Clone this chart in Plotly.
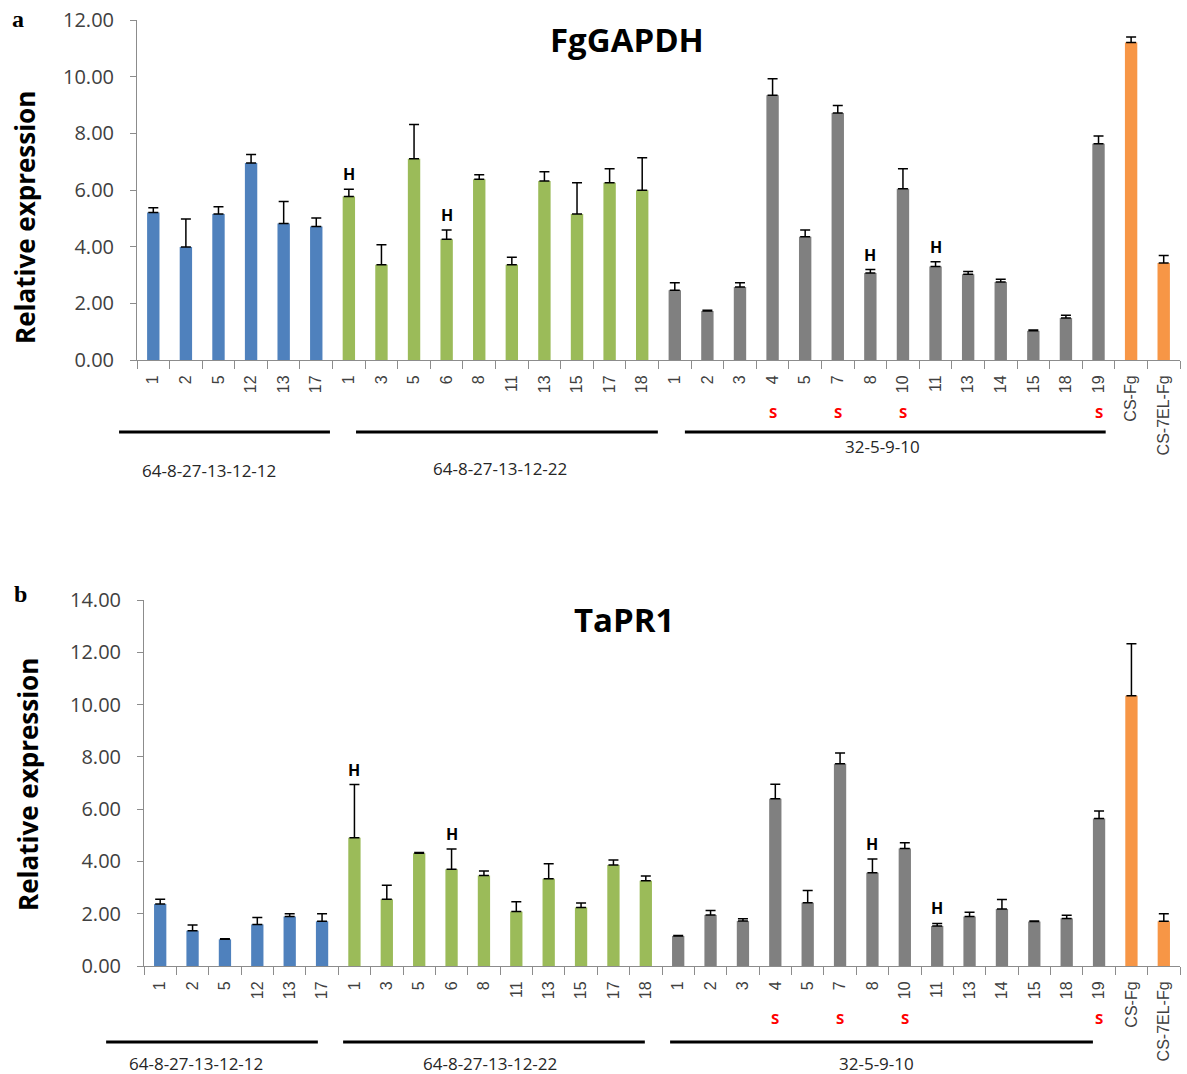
import plotly.graph_objects as go

W, H = 1187, 1074
OFF = 0  # page body margin is removed by the post script below

# ---------------- data ----------------
group_names = ["64-8-27-13-12-12", "64-8-27-13-12-22", "32-5-9-10", "control"]
labels_g1 = ["1", "2", "5", "12", "13", "17"]
labels_g2 = ["1", "3", "5", "6", "8", "11", "13", "15", "17", "18"]
labels_g3 = ["1", "2", "3", "4", "5", "7", "8", "10", "11", "13", "14", "15", "18", "19"]
labels_ctrl = ["CS-Fg", "CS-7EL-Fg"]

# panel a: FgGAPDH
gapdh_g1 = [5.21, 3.99, 5.15, 6.95, 4.82, 4.71]
gapdh_g1_err = [0.16, 0.99, 0.26, 0.30, 0.77, 0.30]
gapdh_g2 = [5.77, 3.36, 7.10, 4.26, 6.38, 3.36, 6.32, 5.15, 6.26, 5.99]
gapdh_g2_err = [0.26, 0.71, 1.21, 0.33, 0.16, 0.27, 0.32, 1.11, 0.49, 1.15]
gapdh_g3 = [2.46, 1.73, 2.58, 9.34, 4.35, 8.72, 3.07, 6.04, 3.30, 3.03, 2.75, 1.03, 1.48, 7.63]
gapdh_g3_err = [0.27, 0.03, 0.15, 0.59, 0.24, 0.26, 0.12, 0.71, 0.17, 0.09, 0.10, 0.03, 0.10, 0.28]
gapdh_ctrl = [11.21, 3.42]
gapdh_ctrl_err = [0.19, 0.27]

# panel b: TaPR1
pr1_g1 = [2.37, 1.35, 1.02, 1.59, 1.89, 1.71]
pr1_g1_err = [0.18, 0.22, 0.02, 0.27, 0.11, 0.29]
pr1_g2 = [4.91, 2.55, 4.31, 3.70, 3.46, 2.08, 3.34, 2.24, 3.86, 3.26]
pr1_g2_err = [2.03, 0.54, 0.03, 0.78, 0.17, 0.38, 0.57, 0.17, 0.19, 0.18]
pr1_g3 = [1.15, 1.95, 1.72, 6.40, 2.42, 7.74, 3.57, 4.49, 1.53, 1.89, 2.18, 1.70, 1.82, 5.64]
pr1_g3_err = [0.02, 0.17, 0.09, 0.55, 0.47, 0.41, 0.52, 0.22, 0.10, 0.17, 0.36, 0.02, 0.12, 0.29]
pr1_ctrl = [10.34, 1.71]
pr1_ctrl_err = [1.99, 0.29]

# y ticks
gapdh_ticks = [0, 2, 4, 6, 8, 10, 12]
pr1_ticks = [0, 2, 4, 6, 8, 10, 12, 14]

# marks: (group index, label)
h_marks = [(1, "1"), (1, "6"), (2, "8"), (2, "11")]
s_marks = [(2, "4"), (2, "7"), (2, "10"), (2, "19")]

colors = ["#4F81BD", "#9BBB59", "#808080", "#F79646"]
group_labels = [labels_g1, labels_g2, labels_g3, labels_ctrl]

# ---------------- helpers ----------------
def py(pix):  # screen pixel row -> paper y
    return 1 - (pix - OFF) / H

def px(pix):  # screen pixel column -> paper x
    return (pix - OFF) / W

positions = []
start = 0
for labs in group_labels:
    positions.append(list(range(start, start + len(labs))))
    start += len(labs)
N = start
all_labels = [l for labs in group_labels for l in labs]
all_pos = list(range(N))

panels = [
    dict(vals=[gapdh_g1, gapdh_g2, gapdh_g3, gapdh_ctrl],
         errs=[gapdh_g1_err, gapdh_g2_err, gapdh_g3_err, gapdh_ctrl_err],
         ticks=gapdh_ticks,
         title="FgGAPDH", xdom=(137, 1180), ydom=(20, 360),
         letter="a", letter_xy=(18, 19), title_xy=(627, 40), ytitle_xy=(25, 218),
         s_y=412, line_y=432,
         lines=[(-1.05, 5.42), (6.22, 15.48), (16.31, 29.22)],
         glabels=[(209, 470), (500, 468), (882, 447)]),
    dict(vals=[pr1_g1, pr1_g2, pr1_g3, pr1_ctrl],
         errs=[pr1_g1_err, pr1_g2_err, pr1_g3_err, pr1_ctrl_err],
         ticks=pr1_ticks,
         title="TaPR1", xdom=(144, 1180), ydom=(600, 966),
         letter="b", letter_xy=(20, 594), title_xy=(624, 620), ytitle_xy=(28, 785),
         s_y=1018, line_y=1042,
         lines=[(-1.67, 4.87), (5.65, 14.97), (15.75, 28.81)],
         glabels=[(196, 1063), (490, 1063), (876, 1063)]),
]

fig = go.Figure()
annotations = []
shapes = []
axis_color = "#8C8C8C"
tick_color = "#404040"

for p_i, p in enumerate(panels):
    sfx = "" if p_i == 0 else str(p_i + 1)
    xref = "x" + sfx
    yref = "y" + sfx
    for g in range(4):
        fig.add_trace(go.Bar(
            x=positions[g], y=p["vals"][g],
            marker=dict(color=colors[g], line=dict(width=0)),
            width=0.38,
            error_y=dict(type="data", array=p["errs"][g], arrayminus=[0] * len(p["errs"][g]),
                         symmetric=False, color="black", thickness=1.5, width=5),
            xaxis=xref, yaxis=yref, showlegend=False, hoverinfo="x+y"))

    ymax = max(p["ticks"])
    xa = dict(domain=[px(p["xdom"][0]), px(p["xdom"][1])], range=[-0.5, N - 0.5],
              tickmode="array", tickvals=all_pos, ticktext=all_labels, tickangle=-90,
              ticks="", ticklabelstandoff=8, ticklabeloverflow="allow",
              tickfont=dict(family="Liberation Sans, Arial", size=16, color=tick_color),
              minor=dict(tickmode="array", tickvals=[i - 0.5 for i in range(N + 1)],
                         ticks="outside", ticklen=8, tickcolor=axis_color, tickwidth=1,
                         showgrid=False),
              showline=True, linecolor=axis_color, linewidth=1, showgrid=False,
              zeroline=False, anchor=yref, fixedrange=True, automargin=False)
    ya = dict(domain=[py(p["ydom"][1]), py(p["ydom"][0])], range=[0, ymax * 1.00002],
              tickmode="array", tickvals=p["ticks"],
              ticktext=["%.2f" % t for t in p["ticks"]],
              ticks="outside", ticklen=6, tickcolor=axis_color,
              ticklabelstandoff=12, ticklabeloverflow="allow",
              tickfont=dict(family="Open Sans", size=20, color=tick_color),
              showline=True, linecolor=axis_color, linewidth=1, showgrid=False,
              zeroline=False, anchor=xref, fixedrange=True, automargin=False)
    fig.update_layout(**{"xaxis" + sfx: xa, "yaxis" + sfx: ya})

    # title, y title, panel letter
    annotations.append(dict(text="<b>" + p["title"] + "</b>", x=px(p["title_xy"][0]),
                            y=py(p["title_xy"][1]), xref="paper", yref="paper",
                            xanchor="center", yanchor="middle",
                            showarrow=False, font=dict(family="Open Sans", size=33, color="black")))
    annotations.append(dict(text="<b>Relative expression</b>", x=px(p["ytitle_xy"][0]),
                            y=py(p["ytitle_xy"][1]), xref="paper", yref="paper", textangle=-90,
                            xanchor="center", yanchor="middle",
                            showarrow=False, font=dict(family="Open Sans", size=26, color="black")))
    annotations.append(dict(text="<b>" + p["letter"] + "</b>", x=px(p["letter_xy"][0]),
                            y=py(p["letter_xy"][1]), xref="paper", yref="paper",
                            xanchor="center", yanchor="middle", showarrow=False, borderpad=0,
                            font=dict(family="Liberation Serif, Times New Roman", size=24, color="black")))

    # H marks above error bars
    for g, lab in h_marks:
        k = group_labels[g].index(lab)
        top = p["vals"][g][k] + p["errs"][g][k]
        annotations.append(dict(text="<b>H</b>", x=positions[g][k], y=top, xref=xref, yref=yref,
                                xanchor="center", yanchor="bottom", yshift=2, showarrow=False,
                                font=dict(family="Open Sans", size=16, color="black")))
    # S marks below tick labels
    for g, lab in s_marks:
        k = group_labels[g].index(lab)
        annotations.append(dict(text="<b>S</b>", x=positions[g][k], y=py(p["s_y"]), xref=xref,
                                yref="paper", xanchor="center", yanchor="middle", showarrow=False,
                                font=dict(family="Open Sans", size=15, color="#FF0000")))
    # group lines and labels
    for (a0, a1), (gx, gy), name in zip(p["lines"], p["glabels"], group_names[:3]):
        shapes.append(dict(type="line", xref=xref + " domain", yref="paper",
                           x0=(a0 + 0.5) / N, x1=(a1 + 0.5) / N,
                           y0=py(p["line_y"]), y1=py(p["line_y"]),
                           line=dict(color="black", width=3)))
        annotations.append(dict(text=name, x=px(gx), y=py(gy), xref="paper", yref="paper",
                                xanchor="center", yanchor="middle", showarrow=False,
                                font=dict(family="Open Sans", size=17, color="#262626")))

fig.update_layout(width=W, height=H,
                  margin=dict(l=0, r=0, t=0, b=0, pad=0, autoexpand=False),
                  paper_bgcolor="white", plot_bgcolor="white",
                  annotations=annotations, shapes=shapes, bargap=0.5)

fig.write_html("out.html", config={"displayModeBar": False},
               post_script="document.body.style.margin='0';document.body.style.overflow='hidden';")
